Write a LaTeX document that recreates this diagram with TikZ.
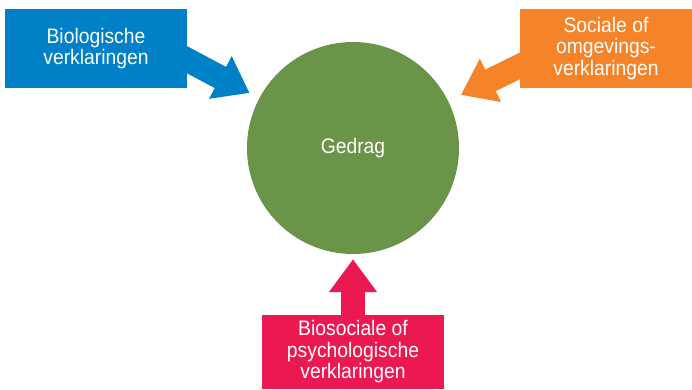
\documentclass[tikz,border=0pt]{standalone}
\usepackage{fontspec}
\setmainfont{Liberation Sans}[FakeStretch=0.92]
\usepackage{xcolor}
\usetikzlibrary{arrows.meta, positioning, calc}
\definecolor{bioblue}{RGB}{0,128,198}
\definecolor{socorange}{RGB}{245,131,41}
\definecolor{psyred}{RGB}{236,24,82}
\definecolor{gedraggreen}{RGB}{106,148,72}

\begin{document}
\begin{tikzpicture}[x=1pt, y=1pt, font=\fontsize{21}{21.5}\selectfont,
    box/.style={text=white, align=center, inner sep=0pt, minimum height=79pt},
    pijl/.style={line width=24pt, -{Triangle[width=46pt, length=33pt]}}]
    \useasboundingbox (0,0) rectangle (692,389);
    \node[circle, fill=gedraggreen, minimum size=212pt, text=white] (gedrag) at (353,241) {Gedrag};
    \node[box, fill=bioblue, minimum width=182pt] (bio) at (96,340.5) {Biologische\\verklaringen};
    \node[box, fill=socorange, minimum width=172pt] (soc) at (606,340.5) {Sociale of\\omgevings-\\verklaringen};
    \node[box, fill=psyred, minimum width=182pt, minimum height=74pt] (psy) at (353,37) {Biosociale of\\psychologische\\verklaringen};
    \draw[pijl, bioblue, shorten >=11pt] ([xshift=-10pt, yshift=-6pt]bio.east) -- (gedrag);
    \draw[pijl, socorange, shorten >=14pt] ([xshift=10pt, yshift=-12.5pt]soc.west) -- (gedrag);
    \draw[pijl, psyred, shorten >=5pt] (psy.north) -- (gedrag);
\end{tikzpicture}
\end{document}
